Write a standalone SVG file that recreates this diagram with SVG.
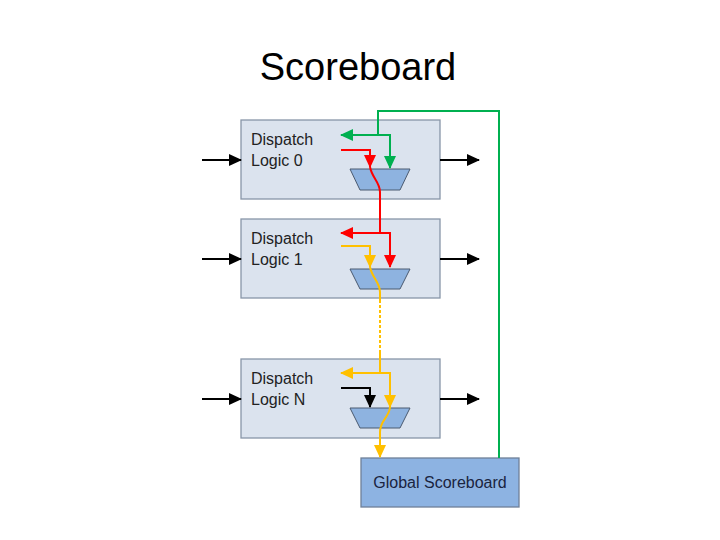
<svg xmlns="http://www.w3.org/2000/svg" width="720" height="540" viewBox="0 0 720 540">
<style>
.box{fill:#dbe3ee;stroke:#8896a8;stroke-width:1.3}
.mux{fill:#8eb3e0;stroke:#4a5a70;stroke-width:1}
.gsb{fill:#8db3e2;stroke:#6f8098;stroke-width:1.3}
.lbl{font-family:"Liberation Sans",Arial,sans-serif;font-size:16px;fill:#222}
.ln{fill:none;stroke-width:2}
.k{stroke:#000}.g{stroke:#00b050}.r{stroke:#ff0000}.y{stroke:#ffc000}
</style>
<defs>
<marker id="ak" markerWidth="13" markerHeight="12" refX="12" refY="6" orient="auto" markerUnits="userSpaceOnUse"><path d="M0,0 L13,6 L0,12 Z" fill="#000"/></marker>
<marker id="ag" markerWidth="13" markerHeight="12" refX="12" refY="6" orient="auto" markerUnits="userSpaceOnUse"><path d="M0,0 L13,6 L0,12 Z" fill="#00b050"/></marker>
<marker id="ar" markerWidth="13" markerHeight="12" refX="12" refY="6" orient="auto" markerUnits="userSpaceOnUse"><path d="M0,0 L13,6 L0,12 Z" fill="#ff0000"/></marker>
<marker id="ay" markerWidth="13" markerHeight="12" refX="12" refY="6" orient="auto" markerUnits="userSpaceOnUse"><path d="M0,0 L13,6 L0,12 Z" fill="#ffc000"/></marker>
</defs>
<rect width="720" height="540" fill="#fff"/>
<text x="358" y="80" text-anchor="middle" font-family="'Liberation Sans',Arial,sans-serif" font-size="38" fill="#000">Scoreboard</text>

<g id="dispatch0">
<rect class="box" x="241" y="120" width="199" height="79"/>
<text class="lbl" x="251" y="145">Dispatch</text>
<text class="lbl" x="251" y="166">Logic 0</text>
<path class="mux" d="M350,169 L410,169 L400,190 L360,190 Z"/>
</g>
<g id="dispatch1">
<rect class="box" x="241" y="219" width="199" height="79"/>
<text class="lbl" x="251" y="244">Dispatch</text>
<text class="lbl" x="251" y="265">Logic 1</text>
<path class="mux" d="M350,269 L410,269 L400,289 L360,289 Z"/>
</g>
<g id="dispatchN">
<rect class="box" x="241" y="359" width="199" height="79"/>
<text class="lbl" x="251" y="384">Dispatch</text>
<text class="lbl" x="251" y="405">Logic N</text>
<path class="mux" d="M350,408 L410,408 L400,428 L360,428 Z"/>
</g>
<g id="global">
<rect class="gsb" x="361" y="458" width="158" height="49"/>
<text x="440" y="488" text-anchor="middle" font-family="'Liberation Sans',Arial,sans-serif" font-size="16" fill="#1a2440">Global Scoreboard</text>
</g>

<g id="connectors">
<line class="ln k" x1="202" y1="160" x2="241" y2="160" marker-end="url(#ak)"/>
<line class="ln k" x1="440" y1="160" x2="479" y2="160" marker-end="url(#ak)"/>
<line class="ln k" x1="202" y1="259" x2="241" y2="259" marker-end="url(#ak)"/>
<line class="ln k" x1="440" y1="259" x2="479" y2="259" marker-end="url(#ak)"/>
<line class="ln k" x1="202" y1="399" x2="241" y2="399" marker-end="url(#ak)"/>
<line class="ln k" x1="440" y1="399" x2="479" y2="399" marker-end="url(#ak)"/>
<path class="ln g" d="M499,458 L499,111 L378,111 L378,135"/>
<path class="ln g" d="M378,135 L341,135" marker-end="url(#ag)"/>
<path class="ln g" d="M378,135 L390,135 L390,168" marker-end="url(#ag)"/>
<path class="ln r" d="M341,150 L370,150 L370,167" marker-end="url(#ar)"/>
<path class="ln r" d="M370,167 C372,178 380,182 380,192 L380,233"/>
<path class="ln r" d="M380,233 L341,233" marker-end="url(#ar)"/>
<path class="ln r" d="M380,233 L390,233 L390,267" marker-end="url(#ar)"/>
<path class="ln y" d="M341,246 L370,246 L370,267" marker-end="url(#ay)"/>
<path class="ln y" d="M370,267 C372,278 380,282 380,292 L380,300"/>
<path class="ln y" d="M380,300 L380,350" stroke-dasharray="3,2"/>
<path class="ln y" d="M380,350 L380,373"/>
<path class="ln y" d="M380,373 L341,373" marker-end="url(#ay)"/>
<path class="ln y" d="M380,373 L390,373 L390,407" marker-end="url(#ay)"/>
<path class="ln y" d="M390,407 C389,418 380,420 380,432 L380,457" marker-end="url(#ay)"/>
<path class="ln k" d="M341,388 L370,388 L370,407" marker-end="url(#ak)"/>
</g>
</svg>
